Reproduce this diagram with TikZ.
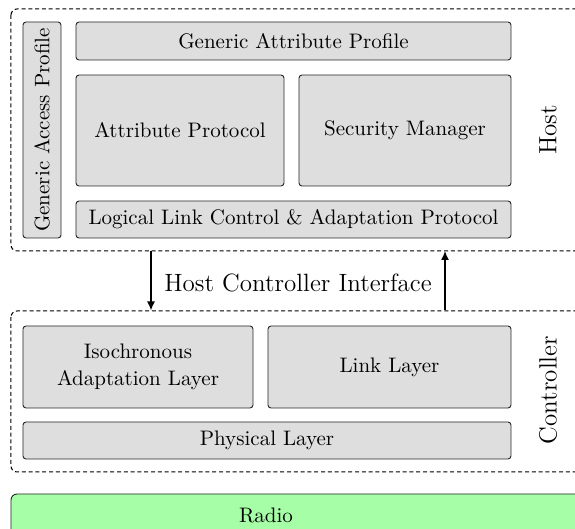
\documentclass[tikz,border=0pt]{standalone}
\usetikzlibrary{arrows.meta}
\definecolor{boxgray}{HTML}{DEDEDE}
\definecolor{radiogreen}{HTML}{A6FFA6}
\begin{document}
\begin{tikzpicture}[x=0.5pt,y=-0.5pt,
  txt/.style={font=\fontsize{10.5pt}{13.5pt}\selectfont},
  bx/.style={txt, draw=black!85, fill=boxgray, rounded corners=1.5pt, line width=0.45pt, inner sep=0pt, align=center},
  grp/.style={draw=black, dash pattern=on 2pt off 1.4pt, rounded corners=3pt, line width=0.5pt},
  big/.style={font=\fontsize{12.5pt}{15pt}\selectfont},
  side/.style={big, rotate=90},
  arr/.style={-{Latex[length=4.5pt,width=4pt]}, line width=0.75pt}]
\useasboundingbox (0,0) rectangle (575,529);
\clip (0,0) rectangle (575,529);
% groups
\draw[grp] (11,9) rectangle (640,251);
\draw[grp] (11,311) rectangle (640,472);
\draw[draw=black!85, fill=radiogreen, rounded corners=3pt, line width=0.45pt] (11,494) rectangle (640,560);
\node[txt] (radio) at (266,515) {Radio};
% host boxes
\node[bx, rotate=90, minimum width=108pt, minimum height=19pt] (gap) at (42,130) {Generic Access Profile};
\node[bx, minimum width=217.5pt, minimum height=19pt] (gatt) at (293.5,41) {Generic Attribute Profile};
\node[bx, minimum width=104pt, minimum height=55.5pt] (att) at (180,130.5) {Attribute Protocol};
\node[bx, minimum width=106pt, minimum height=55.5pt] (sm) at (405,130.5) {Security Manager};
\node[bx, minimum width=217.5pt, minimum height=18.5pt] (l2cap) at (293.5,219.5) {Logical Link Control \& Adaptation Protocol};
\node[side] (host) at (548,130) {Host};
% controller boxes
\node[bx, minimum width=115pt, minimum height=41pt] (iso) at (138,367) {Isochronous\\Adaptation Layer};
\node[bx, minimum width=121.5pt, minimum height=41pt] (ll) at (389.5,367) {Link Layer};
\node[bx, minimum width=244pt, minimum height=18.5pt] (phy) at (267,440.5) {Physical Layer};
\node[side] (ctrl) at (548,390) {Controller};
% HCI
\coordinate (hostA) at (151,251);
\coordinate (ctrlA) at (151,310.5);
\coordinate (hostB) at (445,251);
\coordinate (ctrlB) at (445,310.5);
\draw[arr] (hostA) -- (ctrlA);
\draw[arr] (ctrlB) -- (hostB);
\node[big] (hci) at (298,283) {Host Controller Interface};
\end{tikzpicture}
\end{document}
